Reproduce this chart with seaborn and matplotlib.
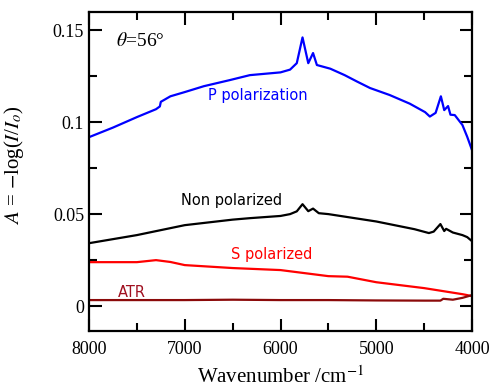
import matplotlib
matplotlib.use("Agg")
import matplotlib.pyplot as plt
import seaborn as sns
import pandas as pd
from matplotlib.ticker import MultipleLocator

# Data (wavenumber in cm^-1, absorbance)
p_wn = [8000, 7750, 7500, 7300, 7260, 7250, 7150, 7000, 6800, 6530, 6320, 6000, 5900, 5830, 5770, 5710, 5660, 5620, 5550, 5480, 5330, 5200, 5065, 4860, 4650, 4490, 4440, 4380, 4325, 4290, 4250, 4225, 4180, 4100, 4050, 4000]
p_val = [0.0918, 0.0970, 0.1027, 0.1070, 0.1085, 0.1110, 0.1140, 0.1163, 0.1195, 0.1228, 0.1255, 0.1270, 0.1285, 0.1320, 0.1460, 0.1320, 0.1375, 0.1310, 0.1300, 0.1290, 0.1255, 0.1220, 0.1185, 0.1147, 0.1100, 0.1054, 0.1030, 0.1050, 0.1140, 0.1065, 0.1087, 0.1040, 0.1038, 0.0984, 0.0920, 0.0848]

n_wn = [8000, 7500, 7000, 6500, 6320, 6000, 5900, 5830, 5770, 5710, 5660, 5600, 5500, 5000, 4600, 4450, 4400, 4330, 4290, 4270, 4200, 4100, 4050, 4000]
n_val = [0.0342, 0.0386, 0.0440, 0.0470, 0.0478, 0.0490, 0.0500, 0.0515, 0.0554, 0.0516, 0.0530, 0.0505, 0.0500, 0.0460, 0.0418, 0.0397, 0.0405, 0.0446, 0.0408, 0.0420, 0.0400, 0.0386, 0.0375, 0.0353]

s_wn = [8000, 7500, 7300, 7150, 7000, 6500, 6000, 5500, 5300, 5000, 4500, 4100, 4050, 4000]
s_val = [0.0239, 0.0239, 0.0250, 0.0240, 0.0223, 0.0207, 0.0196, 0.0163, 0.0160, 0.0130, 0.0098, 0.0065, 0.0060, 0.0054]

a_wn = [8000, 7500, 7000, 6500, 6000, 5500, 5000, 4500, 4330, 4300, 4200, 4100, 4000]
a_val = [0.0033, 0.0033, 0.0033, 0.0035, 0.0033, 0.0033, 0.0031, 0.0030, 0.0030, 0.0040, 0.0035, 0.0045, 0.0060]

series_labels = ["P polarization", "Non polarized", "S polarized", "ATR"]
colors = ["#0000ff", "#000000", "#ff0000", "#8b0a0a"]

sns.set_style("ticks")
plt.rcParams['font.family'] = ['Liberation Serif', 'DejaVu Serif']
plt.rcParams['mathtext.fontset'] = 'stix'
plt.rcParams['text.color'] = 'black'

fig = plt.figure(figsize=(4.94, 3.90), dpi=100)
ax = fig.add_axes([89/494, 1 - 331/390, (472-89)/494, (331-12)/390])

for wn, val, col in [(p_wn, p_val, colors[0]), (n_wn, n_val, colors[1]),
                     (s_wn, s_val, colors[2]), (a_wn, a_val, colors[3])]:
    df = pd.DataFrame({"wn": wn, "A": val})
    sns.lineplot(data=df, x="wn", y="A", color=col, lw=1.6, ax=ax)

ax.set_xlim(8000, 4000)
ax.set_ylim(-0.0135, 0.1598)
ax.xaxis.set_major_locator(MultipleLocator(1000))
ax.xaxis.set_minor_locator(MultipleLocator(500))
ax.yaxis.set_minor_locator(MultipleLocator(0.025))
ax.set_yticks([0, 0.05, 0.1, 0.15])
ax.set_yticklabels(["0", "0.05", "0.1", "0.15"])
ax.tick_params(which='both', direction='in', top=True, right=True, width=1.5,
               labelsize=13, color='black', labelcolor='black')
ax.tick_params(which='major', length=9)
ax.tick_params(which='minor', length=6)
ax.tick_params(axis='x', pad=7)
for sp in ax.spines.values():
    sp.set_linewidth(1.6)
    sp.set_color('black')

ax.set_xlabel("Wavenumber /cm$^{-1}$", fontsize=15, labelpad=6, color='black')
ax.set_ylabel(r"$A$ = $-$log($I$/$I_o$)", fontsize=15, labelpad=12, color='black')
ax.yaxis.set_label_coords(-0.165, 0.52)

sans = ['DejaVu Sans']
ax.text(6235, 0.1147, series_labels[0], color=colors[0], fontsize=10.5, family=sans, ha='center', va='center')
ax.text(6507, 0.0576, series_labels[1], color=colors[1], fontsize=10.5, family=sans, ha='center', va='center')
ax.text(6089, 0.0283, series_labels[2], color=colors[2], fontsize=10.5, family=sans, ha='center', va='center')
ax.text(7551, 0.0076, series_labels[3], color="#a01020", fontsize=10.5, family=sans, ha='center', va='center')
ax.text(7467, 0.1440, r"$\theta$=56°", fontsize=14, ha='center', va='center', color='black')

fig.savefig("out.png", dpi=100)
